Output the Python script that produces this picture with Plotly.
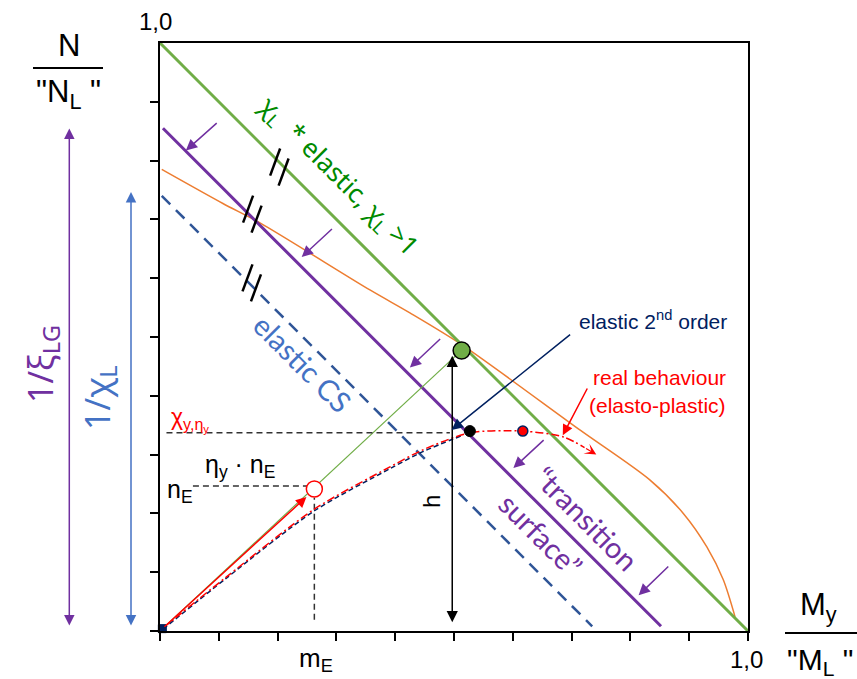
import plotly.graph_objects as go

W, H = 857, 679
ML, MR, MT, MB = 160, 109, 43, 48
PW, PH = W - ML - MR, H - MT - MB


def P(px, py):
    """pixel position -> paper coordinates"""
    return (px - ML) / PW, (H - MB - py) / PH

# ---------------- data (x = My/ML, y = N/NL) ----------------
green_x = [0.0, 1.0]
green_y = [1.0, 0.0]
purple_x = [0.005, 0.852]
purple_y = [0.855, 0.008]
cs_x = [0.003, 0.735]
cs_y = [0.740, 0.008]
orange_x = [0.003, 0.107, 0.17, 0.357, 0.425, 0.513, 0.714, 0.833, 0.890, 0.930, 0.958, 0.978]
orange_y = [0.785, 0.727, 0.694, 0.580, 0.541, 0.487, 0.342, 0.257, 0.200, 0.143, 0.087, 0.024]
ray_x = [0.0, 0.505]
ray_y = [0.0, 0.470]
real_x = [0.005, 0.113, 0.262, 0.391, 0.447, 0.527, 0.617, 0.686, 0.722]
real_y = [0.005, 0.092, 0.207, 0.279, 0.308, 0.337, 0.340, 0.330, 0.312]
second_x = [0.005, 0.113, 0.262, 0.391, 0.447, 0.515]
second_y = [0.003, 0.090, 0.204, 0.276, 0.305, 0.333]

pt_E = (0.2625, 0.2415)
pt_green = (0.513, 0.477)
pt_black = (0.527, 0.340)
pt_red = (0.617, 0.340)
pt_origin = (0.004, 0.004)

chi_level = 0.337
nE_level = 0.2466
mE = 0.2625
h_x = 0.497
h_top = 0.468

purple_tails = [(0.099, 0.866), (0.295, 0.686), (0.479, 0.499), (0.655, 0.327), (0.867, 0.112)]
purple_heads = [(0.044, 0.817), (0.241, 0.636), (0.425, 0.448), (0.601, 0.277), (0.814, 0.061)]
slash_centres = [(0.203, 0.789), (0.157, 0.709), (0.156, 0.592)]
ticks = [round(0.1 * i, 1) for i in range(11)]

C_GREEN = "#70AD47"
C_PURPLE = "#7030A0"
C_ORANGE = "#ED7D31"
C_DBLUE = "#2F5597"
C_BLUE = "#4472C4"
C_NAVY = "#002060"
C_RED = "#FF0000"

fig = go.Figure()


def line(x, y, color, width, dash="solid", shape="linear"):
    fig.add_trace(go.Scatter(x=x, y=y, mode="lines",
                             line=dict(color=color, width=width, dash=dash, shape=shape,
                                       smoothing=0.8 if shape == "spline" else None),
                             hoverinfo="skip", showlegend=False))


line(orange_x, orange_y, C_ORANGE, 1.5, shape="spline")
line(cs_x, cs_y, C_DBLUE, 2.5, dash="12px,8px")
line(purple_x, purple_y, C_PURPLE, 3)
line(green_x, green_y, C_GREEN, 3)
line(ray_x, ray_y, C_GREEN, 1.2)
line([0.011, 0.493], [chi_level, chi_level], "#333333", 1.5, dash="6px,4px")
line([0.056, pt_E[0] - 0.012], [nE_level, nE_level], "#333333", 1.5, dash="6px,4px")
line([mE, mE], [0.019, pt_E[1] - 0.015], "#333333", 1.5, dash="6px,4px")
line(second_x, second_y, C_NAVY, 1.5, dash="5px,3px", shape="spline")
line(real_x, real_y, C_RED, 1.5, dash="8px,3px,2px,3px", shape="spline")


def marker(pt, size, color, lcolor, lw, symbol="circle"):
    fig.add_trace(go.Scatter(x=[pt[0]], y=[pt[1]], mode="markers",
                             marker=dict(size=size, color=color, symbol=symbol,
                                         line=dict(color=lcolor, width=lw)),
                             hoverinfo="skip", showlegend=False, cliponaxis=False))


marker(pt_E, 16, "white", C_RED, 1.5)
marker(pt_green, 17, C_GREEN, "black", 1.5)
marker(pt_black, 11, "black", "black", 1)
marker(pt_red, 10, C_RED, C_NAVY, 1.5)
marker(pt_origin, 8, C_NAVY, C_NAVY, 1, symbol="square")

ann = []


def arrow(head, tail, color, width=1.5, both=False, size=1.0, head_style=2):
    ann.append(dict(x=head[0], y=head[1], ax=tail[0], ay=tail[1], xref="x", yref="y",
                    axref="x", ayref="y", text="", showarrow=True, arrowhead=head_style,
                    startarrowhead=head_style, arrowsize=size, startarrowsize=size,
                    arrowwidth=width, arrowcolor=color, standoff=0, startstandoff=0,
                    arrowside="end+start" if both else "end"))


for t, hd in zip(purple_tails, purple_heads):
    arrow(hd, t, C_PURPLE, 1.5, size=1.5)
arrow((0.249, 0.228), (0.005, 0.005), C_RED, 1.5, size=1.4)
arrow((h_x, h_top), (h_x, 0.0125), "black", 1.5, both=True, size=1.5)
arrow((0.496, 0.342), (0.700, 0.506), C_NAVY, 1.5, size=1.5)
arrow((0.685, 0.333), (0.728, 0.415), C_RED, 1.5, size=1.4)
arrow((0.742, 0.300), (0.722, 0.312), C_RED, 1.2, size=1.6, head_style=3)


def parrow(px, py_top, py_bot, color):
    x, y = P(px, py_top)
    ann.append(dict(x=x, y=y, xref="paper", yref="paper", ax=0, ay=py_bot - py_top,
                    axref="pixel", ayref="pixel", text="", showarrow=True, arrowhead=2,
                    startarrowhead=2, arrowsize=1.4, startarrowsize=1.4, arrowwidth=1.5,
                    arrowcolor=color, arrowside="end+start", standoff=0, startstandoff=0))


parrow(69.3, 128.6, 627, C_PURPLE)
parrow(131, 192, 627, C_BLUE)

ARIAL = "Liberation Sans, Arial, sans-serif"
CALI = "Lato, Noto Sans, sans-serif"
GREEK = "Noto Sans, DejaVu Sans, sans-serif"


def text(px, py, s, size, color="black", family=ARIAL, angle=0):
    x, y = P(px, py)
    ann.append(dict(x=x, y=y, xref="paper", yref="paper", text=s, showarrow=False,
                    xanchor="center", yanchor="middle", textangle=angle,
                    font=dict(size=size, color=color, family=family)))


text(339, 176, "χ<sub>L</sub>  * elastic, χ<sub>L</sub> >1", 26, "#008A00", GREEK, 45)
text(302, 363, "elastic CS", 29, C_BLUE, CALI, 45)
text(587, 518, "“transition", 29, C_PURPLE, CALI, 45)
text(541, 534, "surface”", 29, C_PURPLE, CALI, 45)
text(659, 377, "real behaviour", 21, C_RED)
text(657, 405, "(elasto-plastic)", 21, C_RED)
text(653, 320, "elastic 2<sup>nd</sup> order", 21, C_NAVY)
text(190, 419, "χ<sub>y,η<sub>y</sub></sub>", 23, C_RED)
text(240, 466, "η<sub>y</sub> · n<sub>E</sub>", 25)
text(180, 491, "n<sub>E</sub>", 25)
text(431, 502, "h", 24, angle=-90)
text(42, 364, "1/ξ<sub>LG</sub>", 34, C_PURPLE, GREEK, -90)
text(99, 398, "1/χ<sub>L</sub>", 34, C_BLUE, GREEK, -90)
text(69, 45, "N", 31)
text(68, 94, "\"N<sub>L</sub> \"", 31)
text(818, 607, "M<sub>y</sub>", 31)
text(820, 661, "\"M<sub>L</sub> \"", 30)
text(155, 21, "1,0", 24)
text(746, 660, "1,0", 24)
text(316, 660, "m<sub>E</sub>", 26)

shapes = []
for cx, cy in slash_centres:
    for s in (-1, 1):
        ox, oy = cx + s * 0.0072, cy - s * 0.0085
        shapes.append(dict(type="line", xref="x", yref="y", x0=ox - 0.0085, y0=oy - 0.023,
                           x1=ox + 0.0085, y1=oy + 0.023, line=dict(color="black", width=2.5)))
for (x0p, x1p, yp) in [(33, 103, 68), (785, 857, 633)]:
    a0, b0 = P(x0p, yp)
    a1, _ = P(x1p, yp)
    shapes.append(dict(type="line", xref="paper", yref="paper", x0=a0, y0=b0, x1=a1, y1=b0,
                       line=dict(color="black", width=2)))

axis_common = dict(range=[0, 1], showgrid=False, zeroline=False, showline=True, mirror=True,
                   linecolor="black", linewidth=2, ticks="outside", ticklen=8, tickwidth=1.5,
                   tickcolor="black", showticklabels=False, fixedrange=True)
fig.update_layout(
    width=W, height=H, margin=dict(l=ML, r=MR, t=MT, b=MB, pad=0),
    paper_bgcolor="white", plot_bgcolor="white",
    xaxis=dict(tickvals=ticks, **axis_common),
    yaxis=dict(tickvals=ticks[:-1], **axis_common),
    annotations=ann, shapes=shapes, showlegend=False,
)
fig.write_html("out.html")
